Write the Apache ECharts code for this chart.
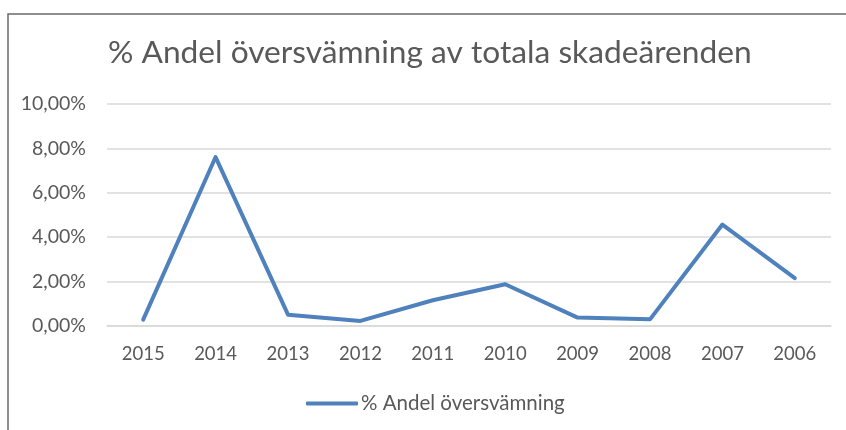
<!DOCTYPE html>
<html>
<head>
<meta charset="utf-8">
<script src="https://cdn.jsdelivr.net/npm/echarts@6/dist/echarts.min.js"></script>
<style>
  html, body { margin: 0; padding: 0; background: #fff; }
  #chart { width: 846px; height: 430px; }
</style>
</head>
<body>
<div id="chart"></div>
<script>
// data
const years = ['2015', '2014', '2013', '2012', '2011', '2010', '2009', '2008', '2007', '2006'];
const andel = [0.29, 7.61, 0.51, 0.23, 1.16, 1.88, 0.38, 0.30, 4.57, 2.16];
const seriesName = '% Andel översvämning';
const titleText = '% Andel översvämning av totala skadeärenden';

const textColor = '#595959';
const font = 'Lato, "Open Sans", sans-serif';

const chart = echarts.init(document.getElementById('chart'), null, { renderer: 'canvas' });

chart.setOption({
    animation: false,
    textStyle: { fontFamily: font },
    graphic: [{
        type: 'rect',
        shape: { x: 8, y: 14, width: 900, height: 500 },
        style: { fill: 'none', stroke: '#6b6b6b', lineWidth: 1.5 },
        silent: true
    }],
    title: {
        text: titleText,
        left: 103,
        top: 32,
        textStyle: { color: textColor, fontSize: 31.7, fontWeight: 'normal', fontFamily: font }
    },
    legend: {
        data: [seriesName],
        bottom: 11,
        left: 301,
        icon: 'roundRect',
        itemWidth: 52,
        itemHeight: 4,
        itemGap: 10,
        textStyle: { color: textColor, fontSize: 20.5, fontFamily: font, padding: [0, 0, 0, -2] }
    },
    grid: { left: 107, right: 15, top: 104, bottom: 104, containLabel: false },
    xAxis: {
        type: 'category',
        data: years,
        boundaryGap: true,
        axisLine: { show: true, lineStyle: { color: '#d9d9d9', width: 1.5 } },
        axisTick: { show: false },
        axisLabel: { color: textColor, fontSize: 18.5, margin: 19, fontFamily: font }
    },
    yAxis: {
        type: 'value',
        min: 0,
        max: 10,
        interval: 2,
        axisLine: { show: false },
        axisTick: { show: false },
        axisLabel: {
            color: textColor,
            fontSize: 19.5,
            margin: 21,
            fontFamily: font,
            formatter: v => v.toFixed(2).replace('.', ',') + '%'
        },
        splitLine: { lineStyle: { color: '#d9d9d9', width: 1.5 } }
    },
    series: [{
        name: seriesName,
        type: 'line',
        data: andel,
        symbol: 'none',
        lineStyle: { color: '#4f81bd', width: 4, cap: 'round', join: 'round' },
        itemStyle: { color: '#4f81bd' }
    }]
});
</script>
</body>
</html>
